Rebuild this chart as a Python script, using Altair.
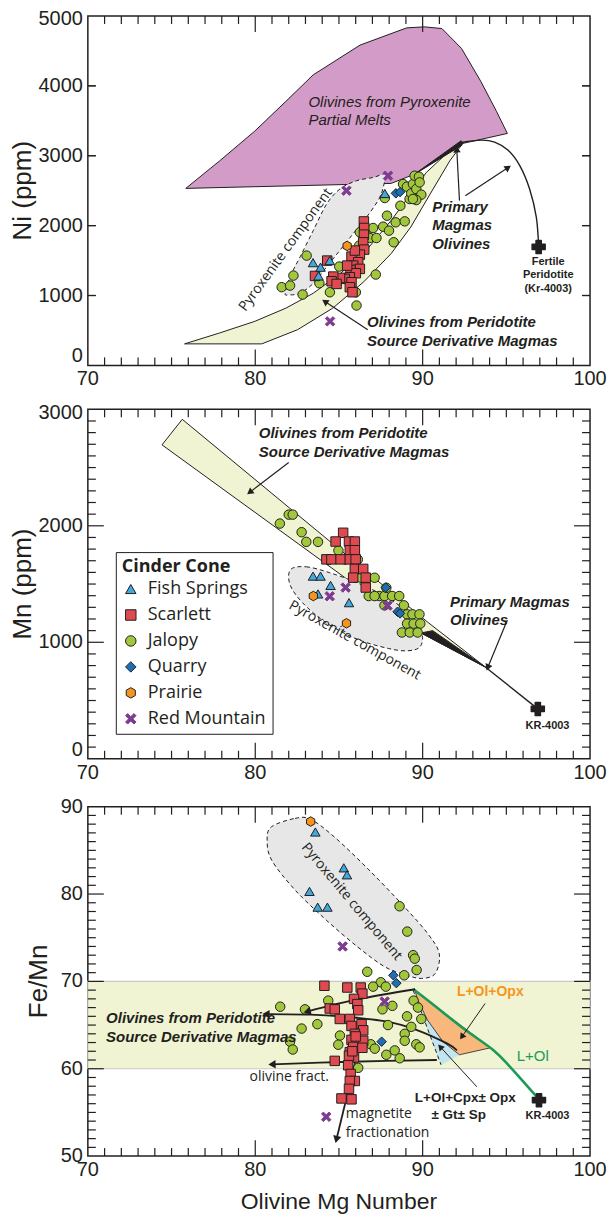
import math

import altair as alt
import pandas as pd

INK = "#231F20"
AXIS_FONT = "Liberation Sans"
NOTE_FONT = "Open Sans"

PANEL_W = 503
PANEL_H = 350
MG_RANGE = [70, 100]
NI_RANGE = [0, 5000]
MN_RANGE = [0, 3000]
FEMN_RANGE = [50, 90]

# tick positions and tick labels
MG_LABELS = [70, 80, 90, 100]
MG_MAJOR = [80, 90]
MG_MINOR = [v for v in range(71, 100) if v % 10]
NI_LABELS = [0, 1000, 2000, 3000, 4000, 5000]
NI_TICKS = [1000, 2000, 3000, 4000]
MN_LABELS = [0, 1000, 2000, 3000]
MN_MAJOR = [1000, 2000]
MN_MINOR = [v for v in range(100, 3000, 100) if v % 1000]
FEMN_LABELS = [50, 60, 70, 80, 90]
FEMN_MAJOR = [60, 70, 80]
FEMN_MINOR = [v for v in range(51, 90) if v % 10]

# tick glyphs: a vertical and a horizontal stroke in the unit box
V_STROKE = "M0,-1L0,1"
H_STROKE = "M-1,0L1,0"

# cinder cones
CONES = ["Fish Springs", "Scarlett", "Jalopy", "Quarry", "Prairie", "Red Mountain"]
CONE_FILLS = ["#3FA8DF", "#DE4A4F", "#A1C83A", "#1B6FB5", "#F7941D", "#7D3C8F"]
CONE_STROKES = [INK, INK, INK, INK, INK, "#7D3C8F"]
HEXAGON = "M0,-1L0.87,-0.5L0.87,0.5L0,1L-0.87,0.5L-0.87,-0.5Z"
SALTIRE = "M-1,-0.6L-0.6,-1L0,-0.4L0.6,-1L1,-0.6L0.4,0L1,0.6L0.6,1L0,0.4L-0.6,1L-1,0.6L-0.4,0Z"
CONE_SHAPES = ["triangle-up", "square", "circle", "diamond", HEXAGON, SALTIRE]
DRAW_ORDER = ["Jalopy", "Scarlett", "Fish Springs", "Quarry", "Prairie", "Red Mountain"]

BAND_FILL = "#F0F4D2"
PINK_FILL = "#D39BC7"
GREY_FILL = "#E7E7E7"

# ---------------- Ni (ppm) vs olivine Mg number ----------------
ni_fish_springs = [(83.45, 1470), (83.9, 1405), (84.45, 1500), (83.78, 1280), (87.74, 2460)]
ni_scarlett = [(86.49, 2060), (86.51, 1966), (86.49, 1871), (86.45, 1761), (86.51, 1657),
               (86.25, 1585), (85.75, 1557), (86.15, 1476), (85.85, 1428), (86.25, 1381),
               (85.69, 1366), (86.01, 1319), (85.65, 1261), (85.35, 1238), (85.06, 1252),
               (84.66, 1271), (84.56, 1204), (84.86, 1166), (85.75, 1190), (85.65, 1119),
               (85.81, 1047), (84.3, 1500), (83.57, 1280), (85.49, 1428), (85.95, 1643)]
ni_jalopy = [(81.58, 1119), (82.08, 1142), (82.28, 1285), (82.83, 1014), (83.07, 1571),
             (83.83, 1176), (84.46, 1047), (85.02, 1414), (85.45, 1252), (86.01, 1047),
             (86.05, 857), (86.21, 1714), (86.25, 1904), (86.64, 1904), (86.84, 1823),
             (87.04, 1966), (87.24, 1823), (87.2, 1300), (87.64, 1985), (87.74, 2395),
             (87.87, 2142), (87.99, 1928), (88.27, 1762), (88.39, 2047), (88.67, 2285),
             (88.83, 2595), (88.93, 2061), (89.06, 2557), (89.22, 2381), (89.32, 2461),
             (89.42, 2595), (89.52, 2714), (89.62, 2523), (89.78, 2700), (89.82, 2619),
             (89.92, 2443), (89.62, 2366), (89.42, 2381)]
ni_quarry = [(88.4, 2462), (88.65, 2480)]
ni_prairie = [(85.49, 1710)]
ni_red_mountain = [(85.45, 2500), (87.93, 2714), (84.47, 630)]

ni_pyroxenite_melts = [(75.85, 2533), (77.87, 2926), (79.97, 3352), (81.83, 3778), (83.46, 4157),
                       (86.26, 4583), (89.05, 4830), (90.1, 4844), (91.15, 4820), (92.32, 4536),
                       (93.48, 4062), (94.41, 3636), (95.06, 3319), (92.32, 3172), (89.52, 2737),
                       (88.12, 2604)]
ni_peridotite_band = [(75.78, 308), (80.39, 308), (82.53, 511), (84.63, 819), (86.49, 1198),
                      (88.12, 1600), (89.29, 1979), (90.45, 2453), (91.62, 2926), (92.43, 3187),
                      (91.38, 3021), (90.22, 2760), (89.29, 2453), (88.12, 2074), (86.72, 1671),
                      (85.09, 1316), (83.46, 1032), (81.83, 819), (79.97, 630), (77.87, 464)]
ni_pyroxenite_component = [(81.79, 1033), (82.08, 1269), (82.68, 1553), (83.47, 1932),
                           (84.27, 2311), (85.06, 2524), (86.05, 2642), (87.04, 2689),
                           (87.84, 2746), (87.74, 2642), (87.44, 2405), (86.65, 2121),
                           (85.85, 1885), (85.06, 1648), (84.27, 1410), (83.47, 1175),
                           (82.68, 1033), (81.98, 1009)]
ni_primary_wedge = [(89.45, 2725), (92.35, 3150), (92.3, 3215)]
ni_primary_curve = [(92.3, 3190), (93.48, 3224), (94.3, 3196), (95.11, 3078), (95.81, 2855),
                    (96.39, 2524), (96.79, 2121), (96.93, 1695)]
ni_fertile = [(96.93, 1695)]
ni_arrows = [[(86.72, 511), (84.16, 914)],
             [(92.2, 2358), (92.04, 3092)],
             [(92.55, 2429), (95.11, 2831)]]

# ---------------- Mn (ppm) vs olivine Mg number ----------------
mn_fish_springs = [(83.45, 1568), (83.9, 1568), (84.5, 1488), (83.75, 1415), (85.6, 1340)]
mn_scarlett = [(85.25, 1940), (84.8, 1865), (85.6, 1865), (85.95, 1865), (85.65, 1790),
               (85.95, 1790), (84.25, 1712), (84.55, 1712), (85.1, 1712), (85.65, 1712),
               (86.0, 1712), (85.95, 1630), (86.45, 1630), (85.85, 1555), (86.6, 1555),
               (86.6, 1470)]
mn_jalopy = [(81.47, 2019), (82.0, 2096), (82.24, 2096), (82.77, 1945), (83.05, 1862),
             (83.75, 1862), (84.41, 1711), (84.97, 1788), (85.38, 1711), (86.13, 1711),
             (85.96, 1554), (86.32, 1554), (86.67, 1554), (87.13, 1554), (86.78, 1397),
             (87.4, 1397), (87.13, 1397), (87.72, 1397), (88.18, 1397), (88.6, 1397),
             (87.83, 1468), (87.72, 1317), (88.88, 1317), (89.07, 1240), (89.39, 1240),
             (89.81, 1240), (89.07, 1160), (89.46, 1160), (89.86, 1160), (88.76, 1084),
             (89.23, 1084), (89.7, 1084)]
mn_quarry = [(87.8, 1470), (88.5, 1262), (88.65, 1248)]
mn_prairie = [(83.47, 1397), (85.45, 1163)]
mn_red_mountain = [(85.4, 1470), (84.45, 1395), (87.9, 1315)]

mn_peridotite_band = [(74.43, 2695), (75.64, 2914), (90.28, 1175), (93.78, 784), (89.93, 1078)]
mn_primary_wedge = [(89.9, 1080), (90.6, 1100), (93.78, 784)]
mn_primary_line = [(93.78, 784), (96.88, 428)]
mn_pyroxenite_component = [(82.12, 1625), (83.05, 1648), (84.45, 1597), (86.08, 1511),
                           (87.72, 1397), (89.11, 1255), (89.93, 1084), (89.86, 964),
                           (89.11, 927), (87.95, 947), (86.08, 1027), (84.22, 1169),
                           (82.82, 1340), (82.07, 1497)]
mn_kr4003 = [(96.88, 428)]
mn_arrows = [[(82.0, 2543), (79.67, 2287)],
             [(95.06, 1192), (93.89, 784)]]

# ---------------- Fe/Mn vs olivine Mg number ----------------
fe_fish_springs = [(83.59, 87.1), (85.29, 83.0), (85.48, 82.2), (83.24, 80.3), (83.73, 78.5),
                   (84.31, 78.5)]
fe_scarlett = [(84.13, 69.5), (85.5, 69.3), (86.3, 69.3), (86.4, 68.6), (85.9, 68.0),
               (86.1, 67.4), (86.15, 66.7), (84.45, 66.9), (84.75, 66.8), (85.05, 65.7),
               (85.65, 65.7), (85.75, 64.9), (86.35, 65.1), (86.45, 64.4), (85.95, 64.0),
               (85.75, 63.3), (86.45, 63.2), (85.85, 62.5), (86.4, 62.4), (85.65, 61.9),
               (85.9, 61.3), (84.75, 60.9), (85.55, 60.4), (85.7, 59.4), (85.95, 58.6),
               (85.65, 58.6), (85.6, 57.7), (85.15, 56.6), (85.75, 56.5), (85.6, 61.5),
               (86.0, 63.7), (85.8, 62.0)]
fe_jalopy = [(88.62, 78.6), (89.08, 75.7), (89.43, 73.0), (89.53, 72.6), (89.64, 71.3),
             (88.9, 70.7), (86.69, 71.1), (87.5, 69.9), (87.04, 69.4), (87.8, 69.4),
             (81.49, 67.1), (82.97, 66.8), (84.36, 67.8), (83.71, 65.1), (82.77, 64.6),
             (82.08, 63.1), (82.24, 62.2), (85.06, 63.8), (84.96, 62.75), (86.9, 62.8),
             (87.14, 62.3), (87.83, 61.6), (88.33, 62.1), (88.63, 61.2), (86.15, 60.1),
             (87.6, 66.8), (88.19, 67.2), (87.93, 65.0), (89.07, 66.0), (89.32, 64.8),
             (88.93, 64.0), (88.93, 63.2), (89.62, 62.8), (89.82, 62.45), (89.46, 67.8),
             (89.72, 67.0), (89.92, 65.7)]
fe_quarry = [(88.25, 70.7), (88.43, 69.8), (87.55, 63.1)]
fe_prairie = [(83.31, 88.3)]
fe_red_mountain = [(85.22, 74.0), (87.73, 67.7), (84.24, 54.5)]

fe_peridotite_band = [(70, 60), (100, 70)]
fe_pyroxenite_component = [(80.98, 87.71), (82.38, 88.66), (83.31, 88.55), (84.71, 86.56),
                           (86.8, 82.75), (88.9, 78.55), (90.29, 75.5), (90.99, 73.21),
                           (90.76, 70.92), (89.94, 70.34), (89.01, 70.73), (87.73, 71.68),
                           (86.1, 73.97), (84.24, 77.02), (82.38, 80.46), (80.98, 83.89),
                           (80.71, 86.18)]
fe_opx_field = [(89.55, 68.93), (94.05, 62.4), (92.2, 61.6), (91.22, 63.09), (90.29, 65.57),
                (89.71, 67.86)]
fe_cpx_field = [(89.43, 69.0), (91.1, 60.45), (92.2, 61.6), (91.22, 63.09), (90.29, 65.57),
                (89.71, 67.86)]
fe_cpx_edge = [(89.43, 69.0), (91.1, 60.45)]
fe_melting_path = [(89.45, 69.1), (90.55, 67.47), (92.44, 64.6), (94.23, 62.12), (95.22, 60.22),
                   (96.12, 58.3), (96.82, 56.78)]
fe_kr4003 = [(96.95, 56.4)]
fe_fractionation = [[(89.55, 69.1), (86.08, 67.93), (83.1, 66.55)],
                    [(92.05, 62.1), (91.45, 62.9), (89.7, 64.4), (87.9, 65.4), (85.1, 66.0),
                     (83.3, 66.2), (80.64, 66.26)],
                    [(90.85, 61.0), (85.7, 60.8), (81.0, 60.5)],
                    [(86.0, 61.0), (84.85, 51.9)]]
fe_pointers = [[(93.73, 67.47), (92.34, 63.65)],
               [(93.24, 57.93), (91.05, 62.51)]]


class Panel:
    """One scatter panel; tick labels and titles are text marks placed through the scales."""

    def __init__(self, yr):
        self.yr = yr

    def X(self, field="x"):
        return alt.X(f"{field}:Q", scale=alt.Scale(domain=MG_RANGE, nice=False, zero=False),
                     axis=None)

    def Y(self, field="y"):
        return alt.Y(f"{field}:Q", scale=alt.Scale(domain=self.yr, nice=False, zero=False),
                     axis=None)

    def xy(self):
        return dict(x=self.X(), y=self.Y())

    def outline(self, pts, stroke, width=1.0, fill=None, dash=None, interp="linear",
                closed=True):
        xs = [p[0] for p in pts]
        ys = [p[1] for p in pts]
        if closed and interp == "linear":
            xs.append(xs[0])
            ys.append(ys[0])
        df = pd.DataFrame({"x": xs, "y": ys, "i": list(range(len(xs)))})
        props = dict(stroke=stroke, strokeWidth=width, interpolate=interp, strokeJoin="round")
        if fill:
            props["fill"] = fill
        if dash:
            props["strokeDash"] = dash
        return alt.Chart(df).mark_line(**props).encode(order=alt.Order("i:Q"), **self.xy())

    def paths(self, paths, width=1.2, color=INK, interp="linear"):
        rows = [{"x": x, "y": y, "k": k, "i": i}
                for k, path in enumerate(paths) for i, (x, y) in enumerate(path)]
        return alt.Chart(pd.DataFrame(rows)).mark_line(
            stroke=color, strokeWidth=width, interpolate=interp
        ).encode(detail="k:N", order=alt.Order("i:Q"), **self.xy())

    def heads(self, paths, size=55):
        sx = PANEL_W / (MG_RANGE[1] - MG_RANGE[0])
        sy = PANEL_H / (self.yr[1] - self.yr[0])
        rows = []
        for path in paths:
            (x0, y0), (x1, y1) = path[-2], path[-1]
            dx = (x1 - x0) * sx
            dy = -(y1 - y0) * sy
            ang = math.degrees(math.atan2(dx, -dy)) % 360
            rows.append({"x": x1, "y": y1, "a": ang})
        return alt.Chart(pd.DataFrame(rows)).mark_point(
            shape="triangle-up", filled=True, fill=INK, strokeWidth=0, size=size, opacity=1
        ).encode(angle=alt.Angle("a:Q", scale=None), **self.xy())

    def text(self, rows, **style):
        df = pd.DataFrame(rows, columns=["x", "y", "t"])
        base = dict(font=AXIS_FONT, color=INK)
        base.update(style)
        return alt.Chart(df).mark_text(**base).encode(text="t:N", **self.xy())

    def star(self, pts):
        df = pd.DataFrame(pts, columns=["x", "y"])
        return alt.Chart(df).mark_point(
            shape="cross", filled=True, fill=INK, stroke=INK, strokeWidth=1.5,
            strokeJoin="round", size=170, opacity=1
        ).encode(**self.xy())

    def cones(self, groups, legend=None):
        rows = []
        for cone in DRAW_ORDER:
            for x, y in groups[cone]:
                rows.append({"x": x, "y": y, "cone": cone})
        df = pd.DataFrame(rows)
        chans = {}
        for name, ch, rng in [("fill", alt.Fill, CONE_FILLS), ("shape", alt.Shape, CONE_SHAPES),
                              ("stroke", alt.Stroke, CONE_STROKES)]:
            scale = alt.Scale(domain=CONES, range=rng)
            if legend is None:
                chans[name] = ch("cone:N", scale=scale, legend=None)
            else:
                chans[name] = ch("cone:N", scale=scale, legend=legend, title="Cinder Cone")
        return alt.Chart(df).mark_point(
            filled=True, size=90, strokeWidth=1, opacity=1
        ).encode(**chans, **self.xy())

    def band(self, corners, fill, stroke):
        (x0, y0), (x1, y1) = corners
        df = pd.DataFrame({"x": [x0], "x2": [x1], "y": [y0], "y2": [y1]})
        return alt.Chart(df).mark_rect(fill=fill, stroke=stroke, strokeWidth=1.2).encode(
            x=self.X(), x2="x2:Q", y=self.Y(), y2="y2:Q")

    def ticks(self, ymajor, ymajor_len, yminor):
        """Inward-pointing ticks on all four sides, drawn as short stroke glyphs
        centred half a tick length inside the frame."""
        ux = (MG_RANGE[1] - MG_RANGE[0]) / PANEL_W
        uy = (self.yr[1] - self.yr[0]) / PANEL_H
        lo_x, hi_x = MG_RANGE
        lo_y, hi_y = self.yr
        layers = []
        for vals, length in [(MG_MAJOR, 16), (MG_MINOR, 8)]:
            half = length / 2 * uy
            rows = [{"x": v, "y": lo_y + half} for v in vals]
            rows += [{"x": v, "y": hi_y - half} for v in vals]
            layers.append(alt.Chart(pd.DataFrame(rows)).mark_point(
                shape=V_STROKE, size=length * length, filled=False, stroke=INK,
                strokeWidth=1.2, opacity=1
            ).encode(**self.xy()))
        for vals, length in [(ymajor, ymajor_len), (yminor, 8)]:
            half = length / 2 * ux
            rows = [{"x": lo_x + half, "y": v} for v in vals]
            rows += [{"x": hi_x - half, "y": v} for v in vals]
            layers.append(alt.Chart(pd.DataFrame(rows)).mark_point(
                shape=H_STROKE, size=length * length, filled=False, stroke=INK,
                strokeWidth=1.2, opacity=1
            ).encode(**self.xy()))
        return layers

    def labels(self, ylabel_groups, ytitle, title_x, xtitle=None):
        """Tick labels and axis titles drawn as text outside the frame."""
        layers = []
        xdf = pd.DataFrame({"x": MG_LABELS, "t": [str(v) for v in MG_LABELS]})
        layers.append(alt.Chart(xdf).mark_text(
            font=AXIS_FONT, fontSize=20, color=INK, baseline="top"
        ).encode(x=self.X(), y=alt.value(PANEL_H + 4), text="t:N"))
        for vals, shift in ylabel_groups:
            ydf = pd.DataFrame({"y": vals, "t": [str(v) for v in vals]})
            layers.append(alt.Chart(ydf).mark_text(
                font=AXIS_FONT, fontSize=20, color=INK, align="right", baseline="middle",
                dy=shift
            ).encode(y=self.Y(), x=alt.value(-5), text="t:N"))
        tdf = pd.DataFrame({"t": [ytitle]})
        layers.append(alt.Chart(tdf).mark_text(
            font=AXIS_FONT, fontSize=26, color=INK, angle=270, baseline="middle"
        ).encode(x=alt.value(title_x), y=alt.value(PANEL_H / 2), text="t:N"))
        if xtitle:
            xt = pd.DataFrame({"t": [xtitle]})
            layers.append(alt.Chart(xt).mark_text(
                font=AXIS_FONT, fontSize=23, color=INK, baseline="top"
            ).encode(x=alt.value(PANEL_W / 2), y=alt.value(PANEL_H + 35), text="t:N"))
        return layers


def finish(layers):
    return alt.layer(*layers).properties(width=PANEL_W, height=PANEL_H)


BOLD_ITALIC = dict(fontSize=15, fontWeight="bold", fontStyle="italic", align="left")
NOTE = dict(font=NOTE_FONT, fontSize=14)

# ---- Ni panel
ni = Panel(NI_RANGE)
ni_groups = {"Fish Springs": ni_fish_springs, "Scarlett": ni_scarlett, "Jalopy": ni_jalopy,
             "Quarry": ni_quarry, "Prairie": ni_prairie, "Red Mountain": ni_red_mountain}
ni_panel = finish([
    ni.outline(ni_pyroxenite_melts, INK, 1.0, fill=PINK_FILL),
    ni.outline(ni_peridotite_band, INK, 1.0, fill=BAND_FILL),
    ni.outline(ni_pyroxenite_component, INK, 1.0, fill=GREY_FILL, dash=[4, 3],
               interp="cardinal-closed"),
    ni.outline(ni_primary_wedge, INK, 1.0, fill=INK),
    ni.outline(ni_primary_curve, INK, 1.4, interp="cardinal", closed=False),
    ni.paths(ni_arrows, 1.2),
    ni.heads(ni_arrows),
    ni.cones(ni_groups),
    ni.star(ni_fertile),
    ni.text([(83.18, 3769, "Olivines from Pyroxenite"), (83.18, 3508, "Partial Melts")],
            fontSize=15, fontStyle="italic", align="left"),
    ni.text([(90.57, 2263, "Primary"), (90.57, 2003, "Magmas"), (90.57, 1742, "Olivines"),
             (86.68, 615, "Olivines from Peridotite"),
             (86.68, 355, "Source Derivative Magmas")], **BOLD_ITALIC),
    ni.text([(97.5, 1482, "Fertile"), (97.5, 1288, "Peridotite"), (97.5, 1098, "(Kr-4003)")],
            fontSize=11, fontWeight="bold"),
    ni.text([(81.83, 1654, "Pyroxenite component")], angle=306, **NOTE),
] + ni.ticks(NI_TICKS, 8, NI_TICKS)
  + ni.labels([(NI_LABELS[:1], -9), (NI_LABELS[1:-1], 0), (NI_LABELS[-1:], 3)],
              "Ni (ppm)", -65))

# ---- Mn panel
mn = Panel(MN_RANGE)
mn_groups = {"Fish Springs": mn_fish_springs, "Scarlett": mn_scarlett, "Jalopy": mn_jalopy,
             "Quarry": mn_quarry, "Prairie": mn_prairie, "Red Mountain": mn_red_mountain}
cone_legend = alt.Legend(
    orient="none", legendX=28, legendY=143, strokeColor=INK, fillColor="white", padding=6,
    titleFont=NOTE_FONT, titleFontSize=18, titleFontWeight="bold", titleColor=INK,
    titlePadding=4, labelFont=NOTE_FONT, labelFontSize=18, labelColor=INK, labelOffset=8,
    symbolSize=110, symbolStrokeWidth=1, rowPadding=8, cornerRadius=0)
mn_panel = finish([
    mn.outline(mn_peridotite_band, INK, 1.0, fill=BAND_FILL),
    mn.outline(mn_pyroxenite_component, INK, 1.0, fill=GREY_FILL, dash=[4, 3],
               interp="cardinal-closed"),
    mn.outline(mn_primary_wedge, INK, 1.0, fill=INK),
    mn.outline(mn_primary_line, INK, 1.4, closed=False),
    mn.paths(mn_arrows, 1.2),
    mn.heads(mn_arrows),
    mn.cones(mn_groups, legend=cone_legend),
    mn.star(mn_kr4003),
    mn.text([(80.21, 2794, "Olivines from Peridotite"),
             (80.21, 2632, "Source Derivative Magmas"),
             (91.63, 1349, "Primary Magmas"), (91.63, 1192, "Olivines")], **BOLD_ITALIC),
    mn.text([(97.46, 280, "KR-4003")], fontSize=11, fontWeight="bold"),
    mn.text([(85.95, 1015, "Pyroxenite component")], angle=29, **NOTE),
] + mn.ticks(MN_MAJOR, 16, MN_MINOR)
  + mn.labels([(MN_LABELS[:1], -9), (MN_LABELS[1:-1], 0), (MN_LABELS[-1:], 4)],
              "Mn (ppm)", -65))

# ---- Fe/Mn panel
fe = Panel(FEMN_RANGE)
fe_groups = {"Fish Springs": fe_fish_springs, "Scarlett": fe_scarlett, "Jalopy": fe_jalopy,
             "Quarry": fe_quarry, "Prairie": fe_prairie, "Red Mountain": fe_red_mountain}
fe_panel = finish([
    fe.band(fe_peridotite_band, BAND_FILL, "#C9C9C9"),
    fe.outline(fe_pyroxenite_component, INK, 1.0, fill=GREY_FILL, dash=[4, 3],
               interp="cardinal-closed"),
    fe.outline(fe_cpx_field, "#C3E5F0", 0.5, fill="#C3E5F0"),
    fe.outline(fe_opx_field, INK, 0.8, fill="#F8B87C"),
    fe.outline(fe_cpx_edge, INK, 1.0, dash=[4, 3], closed=False),
    fe.outline(fe_melting_path, "#1B9B57", 2.6, interp="cardinal", closed=False),
    fe.paths(fe_fractionation, 1.8, interp="cardinal"),
    fe.paths(fe_pointers, 1.0),
    fe.cones(fe_groups),
    fe.heads(fe_fractionation, size=70),
    fe.heads(fe_pointers, size=50),
    fe.star(fe_kr4003),
    fe.text([(71.09, 65.76, "Olivines from Peridotite"),
             (71.09, 63.66, "Source Derivative Magmas")], **BOLD_ITALIC),
    fe.text([(85.76, 79.12, "Pyroxenite component")], angle=50, **NOTE),
    fe.text([(82.03, 59.08, "olivine fract.")], **NOTE),
    fe.text([(85.41, 54.81, "magnetite"), (85.41, 52.67, "fractionation")], align="left",
            **NOTE),
    fe.text([(94.04, 68.74, "L+Ol+Opx")], fontSize=14, fontWeight="bold", color="#F7941D"),
    fe.text([(96.58, 61.49, "L+Ol")], fontSize=15, color="#1B9B57"),
    fe.text([(92.55, 56.6, "L+Ol+Cpx± Opx"), (92.15, 54.7, "± Gt± Sp")], fontSize=13.5,
            fontWeight="bold"),
    fe.text([(97.46, 54.58, "KR-4003")], fontSize=11, fontWeight="bold"),
] + fe.ticks(FEMN_MAJOR, 16, FEMN_MINOR)
  + fe.labels([(FEMN_LABELS, 0)], "Fe/Mn", -49, xtitle="Olivine Mg Number"))

chart = alt.vconcat(ni_panel, mn_panel, fe_panel, spacing=12).resolve_scale(
    fill="independent", shape="independent", stroke="independent"
).properties(
    background="white", padding={"left": 9, "top": 7, "right": 5, "bottom": 1}
).configure_view(stroke=INK, strokeWidth=1.5)

chart.save("out.html", embed_options={"renderer": "svg", "actions": False})
